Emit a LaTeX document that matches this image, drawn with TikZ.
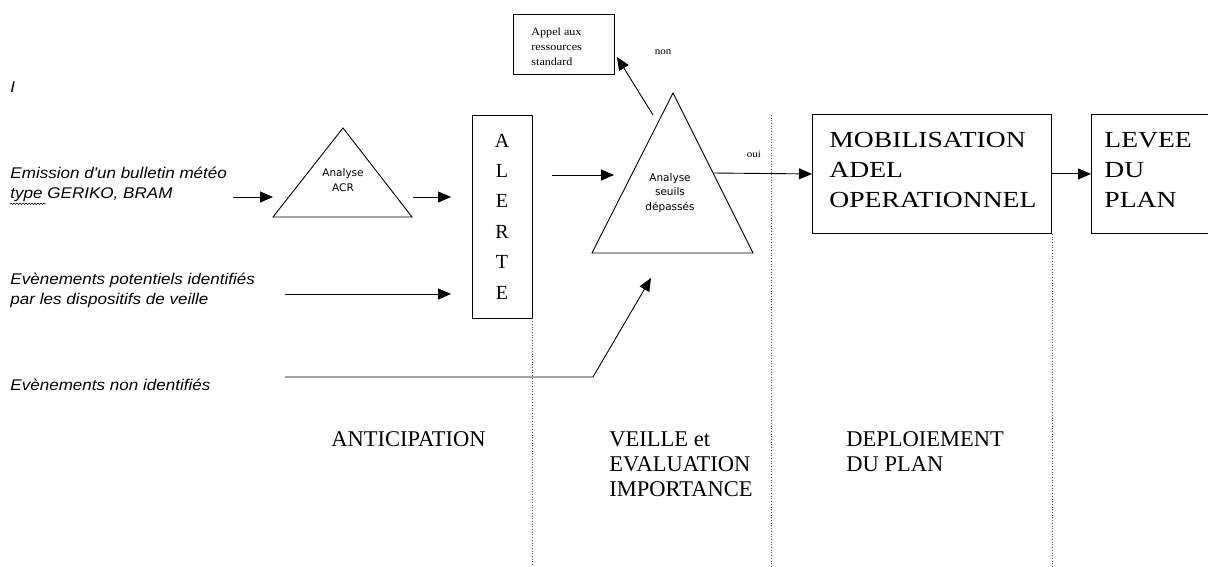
\documentclass[tikz,border=0pt]{standalone}
\usepackage{fontspec}
\setmainfont{Liberation Serif}
\newfontfamily\labfont{Liberation Sans}[FakeStretch=1.1]
\newfontfamily\boxfont{Liberation Serif}[FakeStretch=1.2]
\newfontfamily\smallserif{Liberation Serif}[FakeStretch=1.1]
\newfontfamily\trifont{DejaVu Sans}
\usetikzlibrary{arrows.meta,decorations.pathmorphing}
\tikzset{
  arr/.style={-{Triangle[length=13pt,width=11pt]}},
  lab/.style={anchor=west,align=left,inner sep=0pt,font={\fontsize{15.5}{20}\selectfont\labfont\itshape}},
  tri/.style={align=center,inner sep=0pt,font={\fontsize{10.5}{14.5}\selectfont\trifont}},
  bigbox/.style={draw,anchor=north west,inner sep=0pt},
  boxtxt/.style={anchor=west,align=left,inner sep=0pt,font={\fontsize{23}{30}\selectfont\boxfont}},
  phase/.style={anchor=north west,align=left,inner sep=0pt,font={\fontsize{22.5}{25}\selectfont}},
  dotl/.style={dotted,line width=0.7pt,black!70},
  squiggle/.style={decorate,decoration={snake,amplitude=0.8pt,segment length=3pt},line width=0.5pt},
}
\begin{document}
\begin{tikzpicture}[x=1pt,y=-1pt,line width=0.9pt]
\useasboundingbox (0,0) rectangle (1208,567);
\coordinate (bottom) at (0,567);
% left labels
\node[lab] (iletter) at (10,87) {I};
\node[lab] (emis) at (10,184) {Emission d'un bulletin météo\\type GERIKO, BRAM};
\draw[squiggle] ([yshift=-2pt]emis.south west) -- ++(36,0);
\node[lab] (pot) at (10,290) {Evènements potentiels identifiés\\par les dispositifs de veille};
\node[lab] (nonid) at (10,385) {Evènements non identifiés};
% ACR triangle
\coordinate (acrA) at (343,128);
\coordinate (acrL) at (273,217);
\coordinate (acrR) at (412,217);
\draw (acrA) -- (acrL) -- (acrR) -- cycle;
\node[tri] (acrtxt) at (343,180) {Analyse\\ACR};
% ALERTE
\node[draw,minimum width=60pt,minimum height=203pt,inner sep=0pt,align=center,
      font={\fontsize{20}{30.4}\selectfont}] (alerte) at (502,216.5) {A\\L\\E\\R\\T\\E};
% arrows left
\coordinate (e1s) at (233,197);
\coordinate (e1e) at (273,197);
\draw[arr] (e1s) -- (e1e);
\coordinate (e2s) at (413,197);
\coordinate (e2e) at (451,197);
\draw[arr] (e2s) -- (e2e);
\coordinate (e3s) at (285,294);
\coordinate (e3e) at (451,294);
\draw[arr] (e3s) -- (e3e);
% seuils triangle
\coordinate (sA) at (673,93);
\coordinate (sL) at (592,253);
\coordinate (sR) at (753,253);
\draw (sA) -- (sL) -- (sR) -- cycle;
\node[tri] (seuiltxt) at (670,193) {Analyse\\seuils\\dépassés};
\coordinate (e4s) at (552,175);
\coordinate (e4e) at (614,175);
\draw[arr] (e4s) -- (e4e);
% bottom line
\coordinate (n1) at (285,377);
\coordinate (n2) at (593,377);
\coordinate (n3) at (651,278);
\draw[arr] (n1) -- (n2) -- (n3);
% Appel box
\node[bigbox,minimum width=101pt,minimum height=60pt] (appel) at (513,14) {};
\node[anchor=west,align=left,inner sep=0pt,font={\fontsize{11}{15}\selectfont\smallserif}] (appeltxt) at (531,47) {Appel aux\\ressources\\standard};
\coordinate (nonS) at (653,115);
\coordinate (nonE) at (617,57);
\draw[arr] (nonS) -- (nonE);
\node[inner sep=0pt,font={\fontsize{10}{12}\selectfont\smallserif}] (non) at (663,52) {non};
% oui
\coordinate (ouiS) at (713,173);
\node[bigbox,minimum width=239pt,minimum height=119pt] (mob) at (812,114) {};
\draw[arr] (ouiS) -- (mob.west);
\node[inner sep=0pt,font={\fontsize{10}{12}\selectfont\smallserif}] (oui) at (754,154) {oui};
\node[boxtxt] (mobtxt) at (829,170) {MOBILISATION\\ADEL\\OPERATIONNEL};
\node[bigbox,minimum width=125pt,minimum height=119pt] (levee) at (1091,114) {};
\draw[arr] (mob.east) -- (levee.west);
\node[boxtxt] (leveetxt) at (1104,170) {LEVEE\\DU\\PLAN};
% dotted separators
\draw[dotl] (alerte.south east) -- (alerte.south east |- bottom);
\coordinate (d2) at (771,115);
\draw[dotl] (d2) -- (d2 |- bottom);
\draw[dotl] (mob.south east) -- (mob.south east |- bottom);
% phase labels
\node[phase] (antic) at (331,431) {ANTICIPATION};
\node[phase] (veille) at (609,431) {VEILLE et\\EVALUATION\\IMPORTANCE};
\node[phase] (deploi) at (846,431) {DEPLOIEMENT\\DU PLAN};
\end{tikzpicture}
\end{document}
